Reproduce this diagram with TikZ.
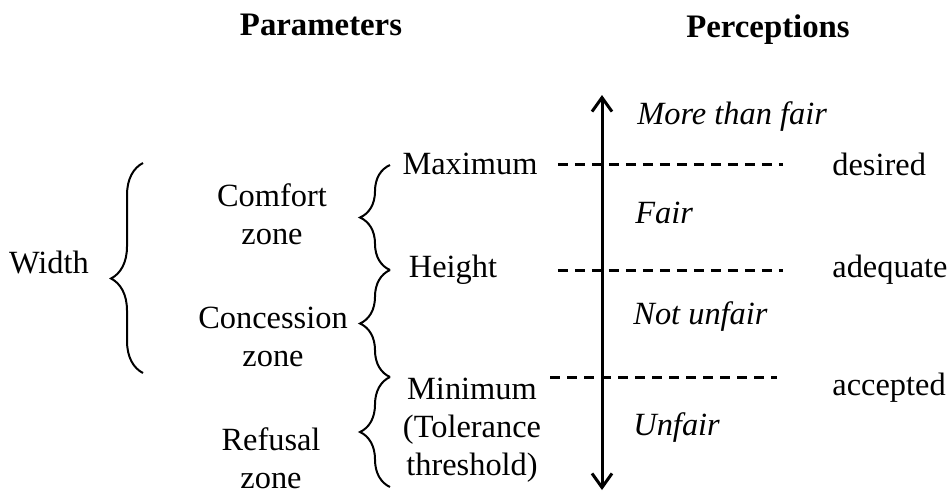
\documentclass[tikz,border=0pt]{standalone}
\usepackage{fontspec}
\setmainfont{Liberation Serif}
\usetikzlibrary{arrows.meta,positioning,decorations.pathreplacing}
\tikzset{
  txt/.style={font=\fontsize{16.2}{19}\selectfont,align=center,inner sep=0pt},
  head/.style={txt,font=\fontsize{16.4}{19}\selectfont\bfseries},
  judge/.style={txt,font=\fontsize{16.2}{19}\selectfont\itshape,anchor=west},
  rating/.style={txt,anchor=west},
  zonebrace/.style={decorate,decoration={brace,amplitude=15pt},line width=1pt},
  limit/.style={line width=1.5pt,dash pattern=on 5pt off 3.5pt},
  axis/.style={{Straight Barb[length=7pt,width=10pt]}-{Straight Barb[length=7pt,width=10pt]},line width=1.5pt}
}
\begin{document}
\begin{tikzpicture}[x=0.5pt,y=-0.5pt]
  \useasboundingbox (0,0) rectangle (949,495);
  % headings
  \node[head] (params) at (321,25) {Parameters};
  \node[head] (percs) at (768,30) {Perceptions};
  % parameters
  \node[txt] (width) at (49,262) {Width};
  \node[txt] (comfort) at (272,214) {Comfort\\zone};
  \node[txt] (concession) at (273,337) {Concession\\zone};
  \node[txt] (refusal) at (271,458) {Refusal\\zone};
  \node[txt] (maximum) at (470,164) {Maximum};
  \node[txt] (height) at (453,270) {Height};
  \node[txt] (minimum) at (472,430) {Minimum\\(Tolerance\\threshold)};
  % braces
  \coordinate (wtop) at (143,163);
  \coordinate (wbot) at (143,373);
  \coordinate (b1) at (390,165);
  \coordinate (b2) at (390,270);
  \coordinate (b3) at (390,377);
  \coordinate (b4) at (390,487);
  \draw[zonebrace,decoration={amplitude=16pt,aspect=0.45}] (wbot) -- (wtop);
  \draw[zonebrace] (b2) -- (b1);
  \draw[zonebrace] (b3) -- (b2);
  \draw[zonebrace] (b4) -- (b3);
  % perception scale
  \coordinate (top) at (602,95);
  \coordinate (bot) at (602,490);
  \draw[axis] (bot) -- (top);
  \node[judge] (morefair) at (637,117) {More than fair};
  \node[judge] (fair) at (635,213) {Fair};
  \node[judge] (notunfair) at (633,317) {Not unfair};
  \node[judge] (unfair) at (633,428) {Unfair};
  \node[rating] (desired) at (832,164) {desired};
  \node[rating] (adequate) at (832,270) {adequate};
  \node[rating] (accepted) at (832,388) {accepted};
  \coordinate (maxend) at (783,164);
  \coordinate (heightend) at (783,270);
  \coordinate (minstart) at (550,377);
  \coordinate (minend) at (777,377);
  \draw[limit] ([xshift=10pt]maximum.east) -- (maxend);
  \draw[limit] (maximum.east |- height.east) ++(10pt,0) -- (heightend);
  \draw[limit] (minstart) -- (minend);
\end{tikzpicture}
\end{document}
